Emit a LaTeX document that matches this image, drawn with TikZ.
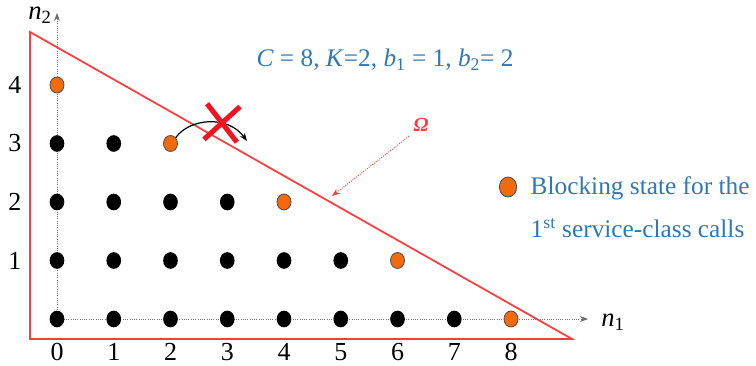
\documentclass[tikz,border=0pt]{standalone}
\usepackage{fontspec}
\setmainfont{Liberation Serif}
\usepackage{tikz}
\usetikzlibrary{arrows.meta,shapes.geometric,shapes.misc}
\definecolor{stBlock}{HTML}{F26A0C}
\definecolor{stText}{HTML}{2E78B6}
\definecolor{stLine}{HTML}{FF3B3B}
\definecolor{stCross}{HTML}{F01420}
\tikzset{
  st/.style={ellipse, inner sep=0pt, minimum width=11pt, minimum height=12.5pt},
  free/.style={st, fill=black},
  block/.style={st, draw=black!70, line width=0.6pt, fill=stBlock, minimum width=10.5pt, minimum height=12pt},
  axis/.style={densely dotted, black!55, line width=0.7pt, -{Stealth[length=6pt,fill=black]}},
  tick/.style={font=\fontsize{19.5}{22}\selectfont},
}

\begin{document}
\begin{tikzpicture}[x=0.75pt, y=-0.75pt]
\useasboundingbox (0,0) rectangle (756,366);
% region Omega
\coordinate (A) at (30,32);
\coordinate (B) at (30,339);
\coordinate (Cc) at (572,339);
\draw[stLine, line width=1.3pt] (A) -- (B) -- (Cc) -- cycle;
% axes
\coordinate (o) at (57,319);
\coordinate (n1end) at (588,319);
\coordinate (n2end) at (57,13);
\draw[axis] (o) -- (n1end);
\draw[axis] (o) -- (n2end);
\node[font=\fontsize{20}{22}\selectfont] (n1) at (613,322) {\textit{n}\textsubscript{1}};
\node[font=\fontsize{20}{22}\selectfont] (n2) at (40,15) {\textit{n}\textsubscript{2}};
% tick labels
\foreach \i in {0,...,8}
  \node[tick] (x\i) at (57+56.75*\i,352) {\i};
\foreach \j in {1,...,4}
  \node[tick] (y\j) at (15,319-58.5*\j) {\j};
% states
\foreach \j in {0,...,3}{
  \pgfmathtruncatemacro\last{7-2*\j}
  \foreach \i in {0,...,\last}
    \node[free] (s\i\j) at (57+56.75*\i,319-58.5*\j) {};
}
\foreach \j in {0,...,4}{
  \pgfmathtruncatemacro\i{8-2*\j}
  \node[block] (s\i\j) at (57+56.75*\i,319-58.5*\j) {};
}
% blocked jump
\coordinate (jump) at (247,141);
\draw[line width=0.9pt, -{Stealth[length=6pt]}] (s23.north east) .. controls (190,118) and (228,115) .. (jump);
\node[cross out, draw=stCross, line width=3.8pt, inner sep=0pt, minimum width=21pt, minimum height=23pt, rotate=-5] (stop) at (222,123) {};
% labels
\node[text=stLine, font=\fontsize{15}{18}\selectfont\bfseries\itshape] (omega) at (421,125) {Ω};
\coordinate (omegatip) at (332,196);
\draw[stLine, densely dotted, line width=0.7pt, -{Stealth[length=6pt]}] (omega.south west) -- (omegatip);
\node[text=stText, font=\fontsize{19}{22}\selectfont] (param) at (385,60)
  {\textit{C} = 8, \textit{K}=2, \textit{b}\textsubscript{1} = 1, \textit{b}\textsubscript{2}= 2};
\node[block, minimum width=13pt, minimum height=15pt] (key) at (508,187) {};
\node[text=stText, align=left, anchor=west, font=\fontsize{19}{32}\selectfont] (keytext) at (526,207)
  {Blocking state for the\\1\textsuperscript{st} service-class calls};
\end{tikzpicture}
\end{document}
